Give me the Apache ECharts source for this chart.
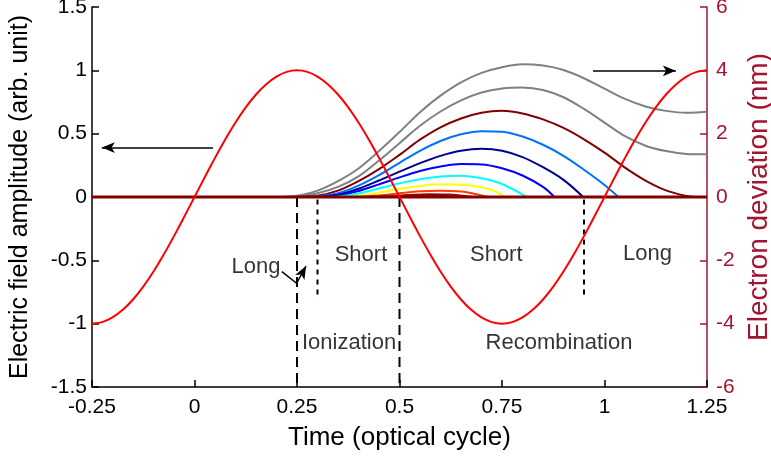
<!DOCTYPE html>
<html><head><meta charset="utf-8">
<script src="https://cdn.jsdelivr.net/npm/echarts@6/dist/echarts.min.js"></script>
<style>html,body{margin:0;padding:0;background:#fff}#c{width:771px;height:464px}</style>
</head><body><div id="c"></div>
<script>
// ---- data ----
const fieldT = [-0.25,-0.225,-0.2,-0.175,-0.15,-0.125,-0.1,-0.075,-0.05,-0.025,0,0.025,0.05,0.075,0.1,0.125,0.15,0.175,0.2,0.225,0.25,0.275,0.3,0.325,0.35,0.375,0.4,0.425,0.45,0.475,0.5,0.525,0.55,0.575,0.6,0.625,0.65,0.675,0.7,0.725,0.75,0.775,0.8,0.825,0.85,0.875,0.9,0.925,0.95,0.975,1,1.025,1.05,1.075,1.1,1.125,1.15,1.175,1.2,1.225,1.25];
const fieldE = [-1,-0.988,-0.951,-0.891,-0.809,-0.707,-0.588,-0.454,-0.309,-0.156,0,0.156,0.309,0.454,0.588,0.707,0.809,0.891,0.951,0.988,1,0.988,0.951,0.891,0.809,0.707,0.588,0.454,0.309,0.156,0,-0.156,-0.309,-0.454,-0.588,-0.707,-0.809,-0.891,-0.951,-0.988,-1,-0.988,-0.951,-0.891,-0.809,-0.707,-0.588,-0.454,-0.309,-0.156,0,0.156,0.309,0.454,0.588,0.707,0.809,0.891,0.951,0.988,1];

const trajGray1 = [[0.21,0],[0.25,0.04],[0.30,0.20],[0.35,0.50],[0.40,0.90],[0.45,1.45],[0.50,2.05],[0.55,2.68],[0.60,3.20],[0.65,3.62],[0.70,3.92],[0.75,4.10],[0.80,4.19],[0.85,4.15],[0.90,4.01],[0.95,3.75],[1.00,3.42],[1.05,3.10],[1.10,2.86],[1.15,2.72],[1.20,2.66],[1.25,2.69]];
const trajGray2 = [[0.23,0],[0.25,0.02],[0.30,0.12],[0.35,0.32],[0.40,0.65],[0.45,1.15],[0.50,1.70],[0.55,2.25],[0.60,2.70],[0.65,3.05],[0.70,3.30],[0.75,3.43],[0.80,3.46],[0.85,3.38],[0.90,3.15],[0.95,2.78],[1.00,2.35],[1.05,1.92],[1.10,1.62],[1.15,1.45],[1.20,1.36],[1.25,1.35]];
const trajMaroon = [[0.25,0],[0.30,0.04],[0.35,0.20],[0.40,0.50],[0.45,0.88],[0.50,1.33],[0.55,1.81],[0.60,2.20],[0.65,2.48],[0.70,2.66],[0.75,2.72],[0.80,2.64],[0.85,2.45],[0.90,2.18],[0.95,1.82],[1.00,1.40],[1.05,0.93],[1.10,0.52],[1.15,0.21],[1.20,0.03],[1.22,0]];
const trajAzure = [[0.27,0],[0.30,0.02],[0.35,0.12],[0.40,0.36],[0.45,0.69],[0.50,1.08],[0.55,1.46],[0.60,1.77],[0.65,1.98],[0.70,2.08],[0.75,2.06],[0.80,1.91],[0.85,1.65],[0.90,1.30],[0.95,0.86],[1.00,0.38],[1.034,0]];
const trajNavy = [[0.29,0],[0.30,0.005],[0.35,0.07],[0.40,0.26],[0.45,0.52],[0.50,0.80],[0.55,1.07],[0.60,1.30],[0.65,1.46],[0.70,1.52],[0.75,1.46],[0.80,1.26],[0.85,0.94],[0.90,0.54],[0.948,0]];
const trajBlue = [[0.31,0],[0.35,0.04],[0.40,0.19],[0.45,0.40],[0.50,0.62],[0.55,0.82],[0.60,0.96],[0.65,1.04],[0.70,1.03],[0.75,0.91],[0.80,0.68],[0.85,0.32],[0.878,0]];
const trajCyan = [[0.33,0],[0.35,0.01],[0.40,0.11],[0.45,0.27],[0.50,0.43],[0.55,0.56],[0.60,0.65],[0.65,0.67],[0.70,0.59],[0.75,0.41],[0.81,0]];
const trajYellow = [[0.36,0],[0.40,0.04],[0.45,0.14],[0.50,0.26],[0.55,0.35],[0.60,0.40],[0.65,0.39],[0.70,0.31],[0.73,0.20],[0.757,0]];
const trajOrange = [[0.39,0],[0.45,0.05],[0.50,0.12],[0.55,0.18],[0.60,0.20],[0.65,0.17],[0.69,0.08],[0.715,0]];
const trajBump1 = [[0.42,0],[0.47,0.02],[0.52,0.06],[0.57,0.09],[0.62,0.08],[0.66,0.03],[0.68,0]];
const trajBump2 = [[0.45,0],[0.50,0.01],[0.55,0.03],[0.60,0.04],[0.63,0.02],[0.65,0]];
const zeroLine = [[-0.25,0],[1.25,0]];

const longDashTimes = [0.25, 0.5];
const shortDashTimes = [0.3, 0.95];

const annotations = [
  [0.150,-0.55,'Long'],
  [0.406,-0.46,'Short'],
  [0.736,-0.46,'Short'],
  [1.105,-0.45,'Long'],
  [0.377,-1.15,'Ionization'],
  [0.889,-1.15,'Recombination']
];

// ---- chart ----
const FONT = "'Liberation Sans', Arial, Helvetica, sans-serif";
const RIGHT = '#A2142F';
const chart = echarts.init(document.getElementById('c'), null, {renderer:'canvas'});

function traj(data, color){
  return {type:'line', yAxisIndex:1, data, showSymbol:false, symbol:'none', smooth:0.35,
    lineStyle:{color, width:2}, z:3, silent:true};
}
const series = [
  traj(trajGray1,'#808080'), traj(trajGray2,'#808080'), traj(trajMaroon,'#800000'),
  traj(trajAzure,'#0070ff'), traj(trajNavy,'#00008b'), traj(trajBlue,'#0000ff'),
  traj(trajCyan,'#00ffff'), traj(trajYellow,'#ffff00'), traj(trajOrange,'#ff3a00'),
  traj(trajBump1,'#a00000'), traj(trajBump2,'#800000'),
  {type:'line', yAxisIndex:1, data:zeroLine, symbol:'none', lineStyle:{color:'#800000', width:3}, z:4, silent:true},
  {type:'line', yAxisIndex:0, data:fieldT.map((t,i)=>[t, fieldE[i]]), symbol:'none', smooth:0.2,
    lineStyle:{color:'#ff0000', width:2}, z:5, silent:true}
];
longDashTimes.forEach(t=>series.push({type:'line', yAxisIndex:0, data:[[t,0],[t,-1.5]], symbol:'none',
  lineStyle:{color:'#000', width:2, type:[10,6]}, z:2, silent:true}));
shortDashTimes.forEach(t=>series.push({type:'line', yAxisIndex:0, data:[[t,-0.02],[t,-0.81]], symbol:'none',
  lineStyle:{color:'#000', width:2, type:[5,5]}, z:2, silent:true}));
// arrows
function arrow(p1,p2){
  return {type:'line', yAxisIndex:0, data:[], silent:true,
    markLine:{silent:true, symbol:['none','arrow'], symbolSize:[8,13], label:{show:false},
      lineStyle:{color:'#000', width:1.5, type:'solid'}, emphasis:{disabled:true},
      data:[[{coord:p1},{coord:p2}]]}};
}
series.push(arrow([0.045,0.39],[-0.226,0.39]));
series.push(arrow([0.972,0.996],[1.174,0.996]));
series.push({type:'line', yAxisIndex:0, data:[[0.213,-0.589],[0.249,-0.681]], symbol:'none',
  lineStyle:{color:'#000', width:1.5}, silent:true});
series.push(arrow([0.249,-0.681],[0.272,-0.545]));
series.push({type:'scatter', yAxisIndex:0, data:annotations, symbolSize:0, silent:true,
  label:{show:true, position:'inside', formatter:p=>p.data[2], color:'#000', fontSize:22, fontFamily:FONT}});

chart.setOption({
  animation:false,
  backgroundColor:'#fff',
  grid:{left:92, right:64, top:7, bottom:77, outerBoundsMode:'none', containLabel:false},
  xAxis:{type:'value', min:-0.25, max:1.25, interval:0.25,
    name:'Time (optical cycle)', nameLocation:'middle', nameGap:38,
    nameTextStyle:{fontSize:26, color:'#000', fontFamily:FONT},
    axisLine:{show:true, onZero:false, lineStyle:{color:'#000', width:1.5}},
    axisTick:{show:true, inside:true, length:7, lineStyle:{color:'#000', width:1.5}},
    axisLabel:{color:'#000', fontSize:21, fontFamily:FONT, margin:10},
    splitLine:{show:false}},
  yAxis:[
    {type:'value', min:-1.5, max:1.5, interval:0.5, position:'left',
      name:'Electric field amplitude (arb. unit)', nameLocation:'middle', nameGap:59,
      nameTextStyle:{fontSize:25, color:'#000', fontFamily:FONT},
      axisLine:{show:true, onZero:false, lineStyle:{color:'#000', width:1.5}},
      axisTick:{show:true, inside:true, length:7, lineStyle:{color:'#000', width:1.5}},
      axisLabel:{color:'#000', fontSize:21, fontFamily:FONT, margin:5},
      splitLine:{show:false}},
    {type:'value', min:-6, max:6, interval:2, position:'right',
      name:'Electron deviation (nm)', nameLocation:'middle', nameGap:36,
      nameTextStyle:{fontSize:28, color:RIGHT, fontFamily:FONT},
      axisLine:{show:true, onZero:false, lineStyle:{color:RIGHT, width:1.5}},
      axisTick:{show:true, inside:true, length:7, lineStyle:{color:RIGHT, width:1.5}},
      axisLabel:{color:RIGHT, fontSize:21, fontFamily:FONT, margin:9},
      splitLine:{show:false}}
  ],
  series
});
</script></body></html>
